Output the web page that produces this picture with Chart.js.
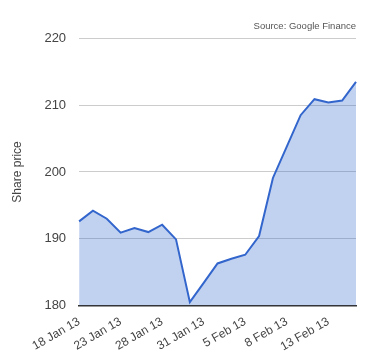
<!DOCTYPE html>
<html>
<head>
<meta charset="utf-8">
<script src="https://cdn.jsdelivr.net/npm/chart.js@4"></script>
<style>
html,body{margin:0;padding:0;background:#fff;}
#wrap{width:380px;height:360px;}
</style>
</head>
<body>
<div id="wrap"><canvas id="c" width="380" height="360"></canvas></div>
<script>
const dates = ["18 Jan 13","21 Jan 13","22 Jan 13","23 Jan 13","24 Jan 13","25 Jan 13","28 Jan 13","29 Jan 13","30 Jan 13","31 Jan 13","1 Feb 13","4 Feb 13","5 Feb 13","6 Feb 13","7 Feb 13","8 Feb 13","11 Feb 13","12 Feb 13","13 Feb 13","14 Feb 13","15 Feb 13"];
const sharePrice = [192.6,194.2,193.0,190.9,191.6,191.0,192.1,189.9,180.5,183.4,186.3,187.0,187.6,190.4,199.1,203.8,208.5,210.9,210.4,210.7,213.5];
const yTicks = [180,190,200,210,220];
const shownLabels = ["18 Jan 13","23 Jan 13","28 Jan 13","31 Jan 13","5 Feb 13","8 Feb 13","13 Feb 13"];

const font = '"Liberation Sans", Arial, sans-serif';
new Chart(document.getElementById('c'), {
  type: 'line',
  data: {
    labels: dates,
    datasets: [{
      label: 'Share price',
      data: sharePrice,
      borderColor: '#3366cc',
      backgroundColor: 'rgba(51,102,204,0.3)',
      borderWidth: 2,
      fill: 'start',
      pointRadius: 0,
      tension: 0
    }]
  },
  options: {
    responsive: false,
    animation: false,
    layout: {padding: {left: 10, right: 24, top: 0, bottom: -3}},
    plugins: {
      legend: {display: false},
      tooltip: {enabled: false},
      title: {
        display: true,
        text: 'Source: Google Finance',
        align: 'end',
        color: '#555',
        font: {family: font, size: 9.5, weight: 'normal'},
        padding: {top: 21, bottom: 6}
      }
    },
    scales: {
      x: {
        offset: false,
        grid: {display: false, drawTicks: false},
        border: {display: true, color: '#333', width: 1.5},
        ticks: {
          autoSkip: false,
          maxRotation: 30,
          minRotation: 30,
          color: '#444',
          padding: 9,
          font: {family: font, size: 12},
          callback: function(v, i) {
            const l = dates[i];
            return shownLabels.includes(l) ? l : '';
          }
        }
      },
      y: {
        min: 180,
        max: 220,
        afterBuildTicks: function(axis) { axis.ticks = yTicks.map(v => ({value: v})); },
        grid: {color: '#ccc', drawTicks: false, lineWidth: 1},
        border: {display: false},
        ticks: {
          color: '#444',
          padding: 13,
          font: {family: font, size: 13}
        },
        title: {
          display: true,
          text: 'Share price',
          color: '#444',
          font: {family: font, size: 12},
          padding: {top: 0, bottom: 7}
        }
      }
    }
  }
});
</script>
</body>
</html>
